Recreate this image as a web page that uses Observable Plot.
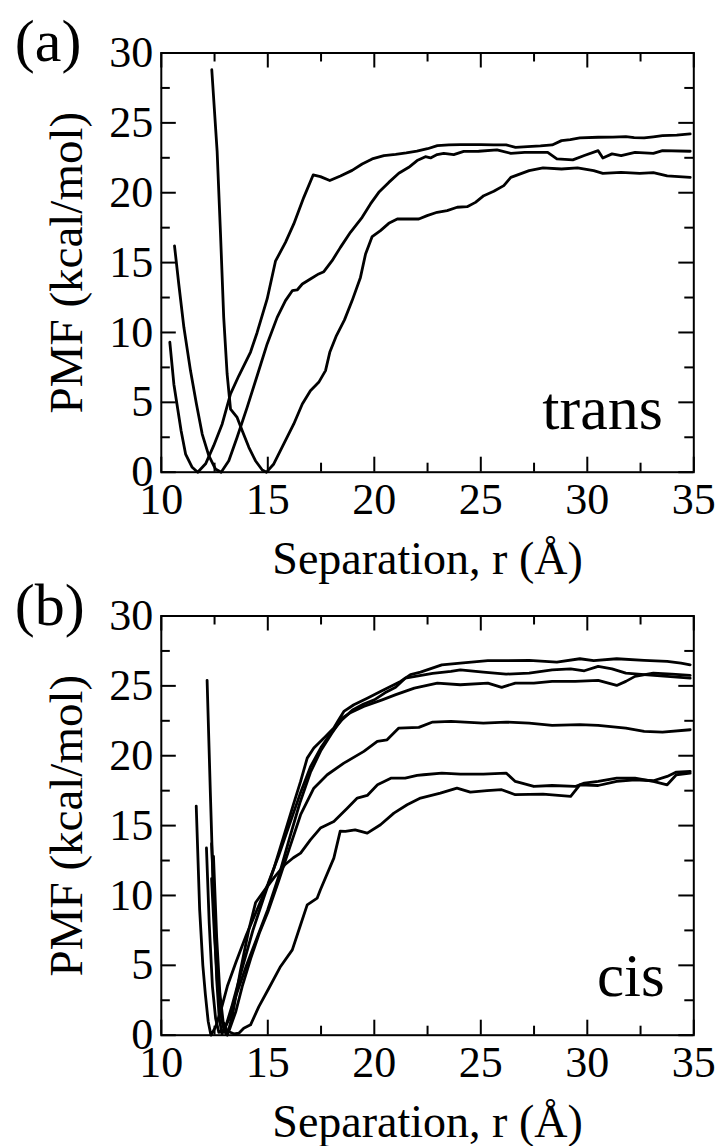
<!DOCTYPE html>
<html><head><meta charset="utf-8">
<script src="https://cdn.jsdelivr.net/npm/d3@7"></script>
<script src="https://cdn.jsdelivr.net/npm/@observablehq/plot@0.6"></script>
<style>
html,body{margin:0;padding:0;background:#fff;}
#chart svg{display:block;}
#chart svg, #chart svg text{font-family:'Liberation Serif','Times New Roman',Times,serif !important;}
</style></head><body><div id="chart"></div>
<script>
// ---- data: panel (a) trans ----
const trans1 = [[10.40,9.3],[10.59,6.3],[10.93,2.97],[11.14,1.3],[11.45,0.35],[11.71,0],[12.08,0.6],[12.46,1.9],[12.86,3.45],[13.25,5.6],[13.64,6.9],[14.19,8.6],[14.5,10.0],[14.97,12.4],[15.36,15.1],[15.83,16.45],[16.22,17.77],[16.69,19.67],[17.13,21.27],[17.47,21.15],[17.91,20.87],[18.41,21.2],[18.96,21.6],[19.43,22.06],[19.9,22.42],[20.45,22.66],[21.0,22.75],[21.5,22.85],[22.0,22.97],[22.5,23.15],[22.96,23.37],[23.5,23.42],[24.04,23.44],[25.0,23.45],[25.6,23.43],[26.19,23.42],[26.63,23.25],[27.2,23.3],[27.8,23.35],[28.35,23.42],[28.79,23.73],[29.2,23.8],[29.65,23.92],[30.51,23.97],[31.2,23.98],[31.81,24.02],[32.2,23.95],[32.67,23.92],[33.1,24.0],[33.53,24.09],[34.2,24.12],[34.83,24.21]];
const trans2 = [[10.62,16.2],[10.82,13.47],[11.06,10.37],[11.37,7.27],[11.65,4.88],[11.92,2.73],[12.23,1.18],[12.54,0.23],[12.81,0],[13.17,0.82],[13.56,2.5],[14.03,4.64],[14.5,6.9],[14.97,9.18],[15.44,11.08],[15.83,12.28],[16.15,12.99],[16.38,13.04],[16.62,13.47],[17.0,13.83],[17.39,14.19],[17.63,14.35],[18.02,15.14],[18.41,16.09],[18.88,17.17],[19.43,18.24],[19.82,19.2],[20.21,20.03],[20.68,20.74],[21.15,21.39],[21.62,21.82],[22.01,22.3],[22.4,22.58],[22.64,22.49],[22.95,22.73],[23.26,22.82],[23.73,22.73],[24.2,22.96],[24.9,22.97],[25.76,23.06],[26.41,22.82],[27.06,22.89],[28.14,22.89],[28.57,22.42],[29.32,22.35],[29.86,22.66],[30.51,23.01],[30.73,22.49],[31.16,22.78],[31.59,22.66],[32.24,22.89],[33.1,22.82],[33.53,23.01],[34.83,22.97]];
const trans3 = [[12.37,28.8],[12.62,23.0],[12.78,17.05],[12.93,11.08],[13.09,7.03],[13.25,4.52],[13.56,3.92],[13.8,2.97],[14.11,1.78],[14.42,0.82],[14.74,0.16],[14.94,0],[15.28,0.59],[15.75,2.02],[16.22,3.45],[16.62,4.88],[17.0,5.83],[17.39,6.43],[17.71,7.27],[17.91,8.58],[18.2,9.7],[18.6,10.9],[18.96,12.28],[19.35,13.94],[19.59,15.62],[19.9,16.86],[20.29,17.29],[20.68,17.81],[21.08,18.12],[21.54,18.12],[22.09,18.12],[22.48,18.36],[22.95,18.6],[23.42,18.72],[23.89,18.96],[24.36,19.0],[24.75,19.31],[25.14,19.79],[25.61,20.1],[26.08,20.51],[26.41,21.1],[27.27,21.58],[27.92,21.78],[28.79,21.7],[29.54,21.78],[30.3,21.58],[30.73,21.39],[31.59,21.46],[32.46,21.39],[33.1,21.44],[33.75,21.2],[34.83,21.1]];

// ---- data: panel (b) cis ----
const cis1 = [[12.15,25.4],[12.3,17.5],[12.45,10.0],[12.6,4.0],[12.72,1.2],[12.85,0.1],[13.0,0.5],[13.3,2.0],[13.8,4.8],[14.3,7.5],[14.8,9.8],[15.3,12.0],[15.8,14.5],[16.2,16.5],[16.54,18.16],[16.85,19.83],[17.16,20.55],[17.71,21.38],[18.1,21.98],[18.33,22.58],[18.57,23.17],[19.04,23.65],[19.67,24.12],[20.29,24.6],[21.23,25.32],[21.7,25.8],[22.17,25.98],[23.17,26.5],[24.04,26.63],[25.33,26.8],[27.27,26.82],[28.57,26.7],[29.65,26.94],[30.3,26.8],[31.38,26.94],[32.67,26.82],[33.75,26.75],[34.4,26.63],[34.83,26.51]];
const cis2 = [[11.64,16.4],[11.8,9.0],[11.95,5.0],[12.07,2.9],[12.2,1.0],[12.33,0],[12.55,0.6],[12.8,1.8],[13.1,3.5],[13.5,5.2],[14.0,7.2],[14.5,9.0],[15.0,10.8],[15.5,12.8],[16.0,15.0],[16.5,17.2],[17.0,19.2],[17.5,20.6],[18.0,21.7],[18.5,22.6],[19.0,23.3],[19.5,23.7],[20.0,24.0],[20.5,24.5],[21.0,24.9],[21.45,25.55],[22.74,25.9],[23.6,26.03],[24.04,26.15],[25.12,25.98],[26.19,25.84],[27.27,25.91],[28.35,26.15],[29.22,26.22],[29.86,26.08],[30.51,26.39],[31.16,26.22],[31.81,25.91],[32.67,25.8],[33.75,25.68],[34.83,25.55]];
const cis3 = [[12.12,13.4],[12.25,8.0],[12.4,3.5],[12.55,1.2],[12.7,0.2],[12.9,0.3],[13.2,1.2],[13.5,2.8],[14.0,5.0],[14.5,7.0],[15.0,9.0],[15.5,11.3],[16.0,14.0],[16.5,16.6],[17.0,18.8],[17.5,20.4],[18.0,21.6],[18.5,22.7],[18.85,23.05],[19.5,23.53],[20.37,24.0],[21.01,24.37],[21.88,24.84],[22.96,25.2],[24.04,25.08],[25.33,25.2],[25.98,24.89],[26.62,25.2],[27.49,25.2],[28.35,25.32],[29.43,25.32],[30.51,25.39],[31.38,25.03],[31.81,25.32],[32.24,25.68],[33.1,25.91],[33.97,25.84],[34.83,25.75]];
const cis4 = [[12.36,13.7],[12.45,10.5],[12.55,6.5],[12.7,3.0],[12.85,1.0],[13.05,0.1],[13.2,0.4],[13.5,1.7],[13.8,3.5],[14.2,5.5],[14.6,7.3],[15.0,8.8],[15.5,11.0],[16.0,13.3],[16.54,15.78],[17.16,17.68],[17.79,18.64],[18.57,19.47],[19.51,20.31],[20.14,21.02],[20.6,21.14],[21.15,21.98],[22.09,22.03],[22.74,22.41],[23.6,22.46],[25.12,22.33],[26.19,22.41],[27.27,22.33],[28.35,22.17],[29.65,22.22],[30.51,22.17],[31.81,21.98],[32.67,21.74],[33.53,21.69],[34.83,21.86]];
const cis5 = [[12.36,11.2],[12.5,7.0],[12.65,3.5],[12.8,1.5],[12.95,0.3],[13.1,0],[13.35,1.5],[13.7,4.5],[14.1,7.5],[14.43,9.5],[14.86,10.4],[15.3,11.3],[15.8,12.2],[16.2,12.7],[16.54,13.03],[17.0,13.98],[17.47,14.82],[18.1,15.3],[18.73,16.25],[19.2,16.97],[19.67,17.16],[20.15,17.92],[20.8,18.4],[21.45,18.4],[22.01,18.59],[22.31,18.64],[23.17,18.76],[24.04,18.68],[25.12,18.68],[26.19,18.76],[26.62,18.16],[27.49,17.8],[28.35,17.87],[29.43,17.8],[29.86,18.04],[30.51,18.16],[31.38,18.4],[32.24,18.4],[33.1,18.16],[33.75,17.92],[34.18,18.64],[34.83,18.76]];
const cis6 = [[12.45,12.8],[12.6,7.0],[12.75,3.0],[12.9,1.0],[13.1,0.3],[13.4,0.1],[13.64,0.14],[13.87,0.5],[14.19,0.74],[14.58,2.05],[15.05,3.36],[15.6,4.92],[16.15,6.11],[16.54,7.9],[16.85,9.33],[17.32,9.81],[17.47,10.41],[18.1,12.67],[18.4,14.6],[18.64,14.58],[19.1,14.7],[19.67,14.46],[20.29,15.06],[20.92,15.89],[21.54,16.49],[22.17,16.97],[23.1,17.32],[23.88,17.68],[24.51,17.39],[25.29,17.5],[25.98,17.57],[26.62,17.21],[27.92,17.25],[29.22,17.09],[29.65,17.92],[30.51,17.87],[31.38,18.16],[32.24,18.28],[33.1,18.21],[33.75,18.52],[34.18,18.83],[34.83,18.88]];

// ---- ticks and labels ----
const xTicks = [10, 15, 20, 25, 30, 35];
const xMinor = [12.5, 17.5, 22.5, 27.5, 32.5];
const yTicks = [0, 5, 10, 15, 20, 25, 30];
const yMinor = [2.5, 7.5, 12.5, 17.5, 22.5, 27.5];
const xLabel = "Separation, r (Å)";
const yLabel = "PMF (kcal/mol)";
const panelTags = ["(a)", "(b)"];
const panelNames = ["trans", "cis"];

function panel({curves, tag, name, marginTop, tagDy, nameDx, nameDy, nameSize}) {
  const W = 721, H = 573, mL = 160.8, mR = 27.7, fh = 419.2;
  const mB = H - marginTop - fh;
  const fw = W - mL - mR;
  const rows = curves.flatMap((c, i) => c.map(([x, y]) => ({x, y, s: i})));
  const MAJ = 15, MIN = 9;
  const tk = {stroke: "#000", strokeWidth: 2};
  const svg = Plot.plot({
    width: W, height: H,
    marginLeft: mL, marginRight: mR, marginTop, marginBottom: mB,
    x: {domain: [10, 35]},
    y: {domain: [0, 30]},
    style: "font-family: 'Liberation Serif', 'Times New Roman', serif; font-size: 44px; color: #000; background: #fff; overflow: visible;",
    marks: [
      Plot.line(rows, {x: "x", y: "y", z: "s", stroke: "#000", strokeWidth: 2.8, strokeLinejoin: "round"}),
      Plot.tickX(xTicks, {x: d => d, insetTop: fh - MAJ, ...tk}),
      Plot.tickX(xMinor, {x: d => d, insetTop: fh - MIN, ...tk}),
      Plot.tickX(xTicks, {x: d => d, insetBottom: fh - MAJ, ...tk}),
      Plot.tickX(xMinor, {x: d => d, insetBottom: fh - MIN, ...tk}),
      Plot.tickY(yTicks, {y: d => d, insetRight: fw - MAJ, ...tk}),
      Plot.tickY(yMinor, {y: d => d, insetRight: fw - MIN, ...tk}),
      Plot.tickY(yTicks, {y: d => d, insetLeft: fw - MAJ, ...tk}),
      Plot.tickY(yMinor, {y: d => d, insetLeft: fw - MIN, ...tk}),
      Plot.frame({stroke: "#000", strokeWidth: 2}),
      Plot.axisX(xTicks, {tickSize: 0, tickPadding: 11, fontSize: 44, label: null}),
      Plot.axisY(yTicks, {tickSize: 0, tickPadding: 8, fontSize: 44, label: null}),
      Plot.text([xLabel], {text: d => d, frameAnchor: "bottom", dy: 102, lineAnchor: "bottom", fontSize: 46}),
      Plot.text([yLabel], {text: d => d, frameAnchor: "left", dx: -79, rotate: -90, textAnchor: "middle", lineAnchor: "bottom", fontSize: 47}),
      Plot.text([tag], {text: d => d, frameAnchor: "top-left", dx: -146.5, dy: tagDy, textAnchor: "start", lineAnchor: "bottom", fontSize: 60}),
      Plot.text([name], {text: d => d, frameAnchor: "bottom-right", dx: nameDx, dy: nameDy, textAnchor: "end", lineAnchor: "bottom", fontSize: nameSize})
    ]
  });
  // serif font everywhere; tick labels at 44px
  d3.select(svg).selectAll("text").attr("font-family", "'Liberation Serif', 'Times New Roman', serif");
  d3.select(svg).selectAll("[aria-label='x-axis tick label'], [aria-label='y-axis tick label']").attr("font-size", 44).attr("font-variant", null);
  return svg;
}

const root = document.getElementById("chart");
root.append(panel({curves: [trans1, trans2, trans3], tag: panelTags[0], name: panelNames[0], marginTop: 52.5, tagDy: 7.5, nameDx: -31, nameDy: -43, nameSize: 62}));
root.append(panel({curves: [cis1, cis2, cis3, cis4, cis5, cis6], tag: panelTags[1], name: panelNames[1], marginTop: 42.5, tagDy: 9, nameDx: -29, nameDy: -39, nameSize: 61}));
</script></body></html>
